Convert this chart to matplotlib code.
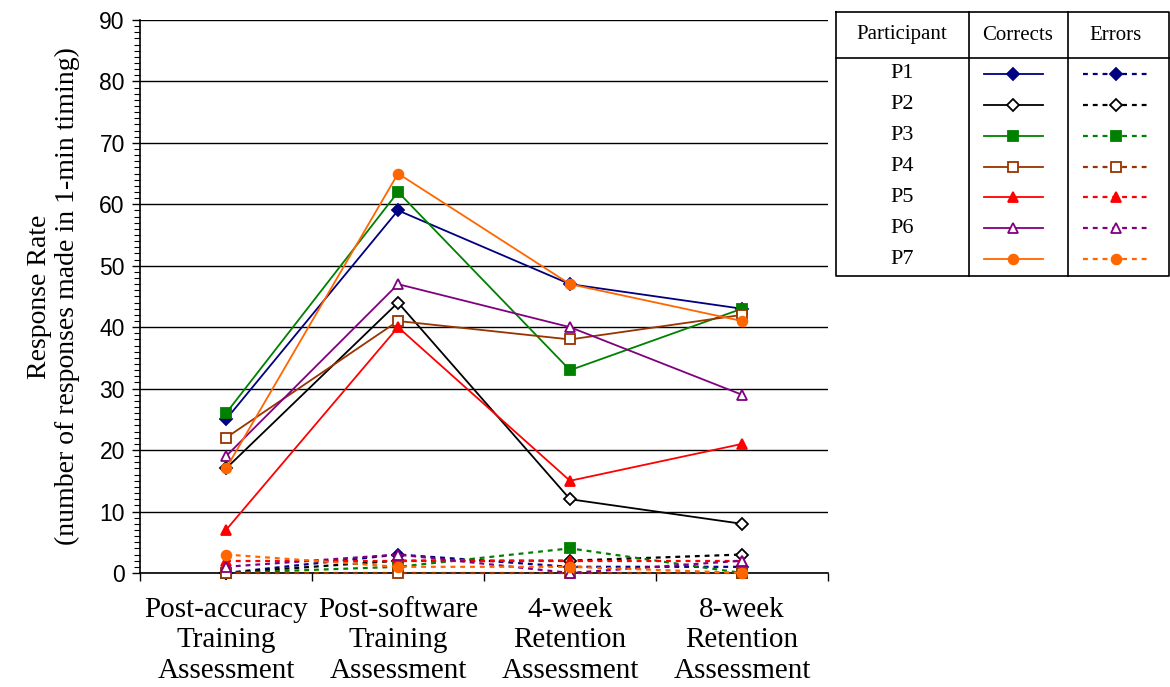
import numpy as np
import matplotlib.pyplot as plt
from matplotlib.ticker import MultipleLocator, FixedLocator

# Данные
phases = ['Post-accuracy\nTraining\nAssessment', 'Post-software\nTraining\nAssessment',
          '4-week\nRetention\nAssessment', '8-week\nRetention\nAssessment']
participants = ['P1', 'P2', 'P3', 'P4', 'P5', 'P6', 'P7']

corrects = {
    'P1': [25, 59, 47, 43],
    'P2': [17, 44, 12, 8],
    'P3': [26, 62, 33, 43],
    'P4': [22, 41, 38, 42],
    'P5': [7, 40, 15, 21],
    'P6': [19, 47, 40, 29],
    'P7': [17, 65, 47, 41],
}
errors = {
    'P1': [0, 3, 1, 1],
    'P2': [0, 2, 2, 3],
    'P3': [0, 1, 4, 0],
    'P4': [0, 0, 0, 0],
    'P5': [2, 2, 2, 2],
    'P6': [1, 3, 0, 2],
    'P7': [3, 1, 1, 0],
}

# Стили
colors = {'P1': '#000080', 'P2': '#000000', 'P3': '#008000', 'P4': '#993300',
          'P5': '#FF0000', 'P6': '#800080', 'P7': '#FF6600'}
markers = {'P1': 'D', 'P2': 'D', 'P3': 's', 'P4': 's', 'P5': '^', 'P6': '^', 'P7': 'o'}
filled = {'P1': True, 'P2': False, 'P3': True, 'P4': False, 'P5': True, 'P6': False, 'P7': True}
msize = {'D': 6, 's': 6.5, '^': 7.5, 'o': 7}
err_dash = (0, (2.2, 2.2))

serif = 'Liberation Serif'
sans = 'Liberation Sans'

fig = plt.figure(figsize=(11.7, 6.87), dpi=100)
ax = fig.add_axes([0.1197, 0.166, 0.588, 0.805])
x = np.arange(len(phases))


def style(p):
    face = colors[p] if filled[p] else 'white'
    return dict(color=colors[p], marker=markers[p], markersize=msize[markers[p]],
                markerfacecolor=face, markeredgecolor=colors[p], markeredgewidth=1.3)


for p in participants:
    ax.plot(x, errors[p], linestyle=err_dash, linewidth=1.6, zorder=3, clip_on=False, **style(p))
for p in participants:
    ax.plot(x, corrects[p], linestyle='-', linewidth=1.3, zorder=4, clip_on=False, **style(p))

ax.set_xlim(-0.5, 3.5)
ax.set_ylim(0, 90)
ax.yaxis.set_major_locator(MultipleLocator(10))
ax.yaxis.set_minor_locator(MultipleLocator(1))
ax.grid(axis='y', which='major', color='black', linewidth=1)
ax.set_axisbelow(True)
ax.xaxis.set_major_locator(FixedLocator([-0.5, 0.5, 1.5, 2.5, 3.5]))
ax.xaxis.set_minor_locator(FixedLocator(x))
ax.set_xticklabels([''] * 5)
ax.set_xticklabels(phases, minor=True, fontfamily=serif, fontsize=21, linespacing=1.24)
ax.tick_params(axis='x', which='minor', length=0, pad=17)
ax.tick_params(axis='x', which='major', length=6, width=1, direction='out')
ax.tick_params(axis='y', which='major', length=6, width=1, direction='out', labelsize=16.5, pad=5)
ax.tick_params(axis='y', which='minor', length=4, width=0.8, direction='out')
for lab in ax.get_yticklabels():
    lab.set_fontfamily(sans)
for s in ['top', 'right']:
    ax.spines[s].set_visible(False)
ax.spines['left'].set_linewidth(1.2)
ax.spines['bottom'].set_linewidth(1.2)

ax.set_ylabel('Response Rate\n(number of responses made in 1-min timing)',
              fontfamily=serif, fontsize=20, linespacing=1.12, labelpad=14)

# Легенда в виде таблицы
lax = fig.add_axes([836 / 1170, 1 - 276 / 687, 333 / 1170, 264 / 687])
lax.set_xlim(836, 1169)
lax.set_ylim(276, 12)
lax.axis('off')
kw = dict(color='black', linewidth=1.2, clip_on=False)
lax.plot([836, 1169, 1169, 836, 836], [12, 12, 276, 276, 12], **kw)
lax.plot([836, 1169], [58, 58], **kw)
lax.plot([969, 969], [12, 276], **kw)
lax.plot([1068, 1068], [12, 276], **kw)
lax.text(902, 35, 'Participant', ha='center', va='center', fontfamily=serif, fontsize=15)
lax.text(1018, 36, 'Corrects', ha='center', va='center', fontfamily=serif, fontsize=15)
lax.text(1116, 36, 'Errors', ha='center', va='center', fontfamily=serif, fontsize=15)
row_y = np.linspace(74, 259, len(participants))
for p, ry in zip(participants, row_y):
    lax.text(902, ry, p, ha='center', va='center', fontfamily=serif, fontsize=16)
    st = style(p)
    lax.plot([984, 1043], [ry, ry], linestyle='-', linewidth=1.3, color=colors[p])
    lax.plot([1013], [ry], linestyle='none', **{k: v for k, v in st.items() if k != 'color'})
    lax.plot([1083, 1148], [ry, ry], linestyle=err_dash, linewidth=1.6, color=colors[p])
    lax.plot([1116], [ry], linestyle='none', **{k: v for k, v in st.items() if k != 'color'})

fig.savefig('out.png', dpi=100)
